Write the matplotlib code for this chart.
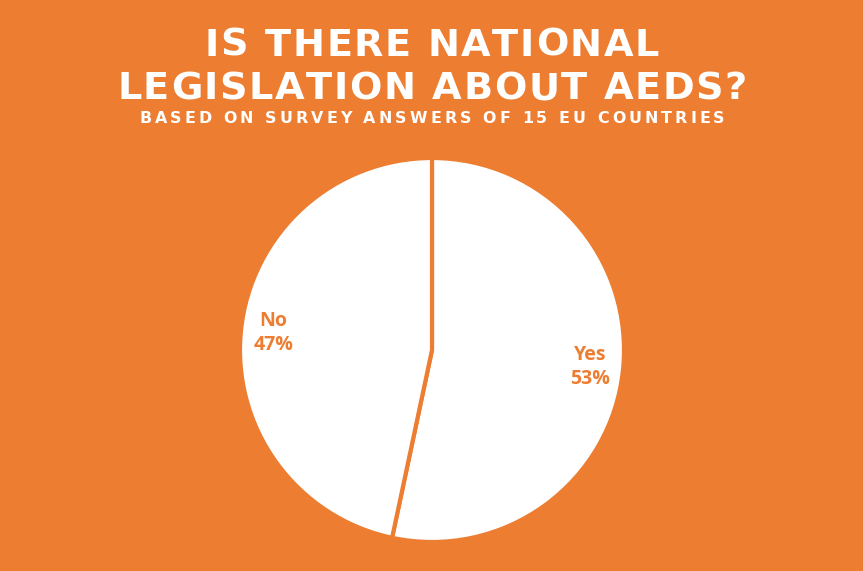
import matplotlib
matplotlib.use('Agg')
import matplotlib.pyplot as plt
from matplotlib.font_manager import FontProperties, findfont, get_font

# Données
categories = ["Yes", "No"]
pays = [8, 7]  # 15 pays interrogés
pourcentages = ["53%", "47%"]

titre_l1 = "IS THERE NATIONAL"
titre_l2 = "LEGISLATION ABOUT AEDS?"
sous_titre = "BASED ON SURVEY ANSWERS OF 15 EU COUNTRIES"

ORANGE = "#ED7D31"
W, H = 863, 571
DPI = 100


def texte_espace(fig, x_centre, y_base, texte, taille, espacement):
    """Écrit un texte blanc gras lettre par lettre avec un espacement (px) entre les lettres."""
    prop = FontProperties(family="DejaVu Sans", weight="bold", size=taille)
    font = get_font(findfont(prop))
    font.set_size(taille, DPI)
    avances = [font.load_char(ord(c)).linearHoriAdvance / 65536 for c in texte]
    total = sum(avances) + espacement * (len(texte) - 1)
    x = x_centre - total / 2
    for c, a in zip(texte, avances):
        fig.text(x / W, 1 - y_base / H, c, ha="left", va="baseline", color="white",
                 fontproperties=prop)
        x += a + espacement


fig = plt.figure(figsize=(W / DPI, H / DPI), dpi=DPI, facecolor=ORANGE)

# Titres
texte_espace(fig, 432, 56, titre_l1, 27.5, 1.6)
texte_espace(fig, 432, 99, titre_l2, 27.5, 1.6)
texte_espace(fig, 432, 123, sous_titre, 11.4, 3.1)

# Camembert
ax = fig.add_axes([240 / W, 29 / H, 384 / W, 384 / H])
ax.set_facecolor(ORANGE)
wedges, texts, autotexts = ax.pie(
    pays, startangle=90, counterclock=False, colors=["white", "white"],
    wedgeprops={"edgecolor": ORANGE, "linewidth": 3},
    autopct="%1.0f%%", pctdistance=0.83,
    textprops={"color": ORANGE, "fontsize": 14, "fontweight": "bold", "family": "Open Sans"},
)
for t, cat, pct in zip(autotexts, categories, pourcentages):
    t.set_text(f"{cat}\n{pct}")
    t.set_linespacing(1.25)
ax.set_xlim(-1, 1)
ax.set_ylim(-1, 1)
ax.axis("off")

plt.savefig("out.png", dpi=DPI, facecolor=ORANGE)
plt.close()
